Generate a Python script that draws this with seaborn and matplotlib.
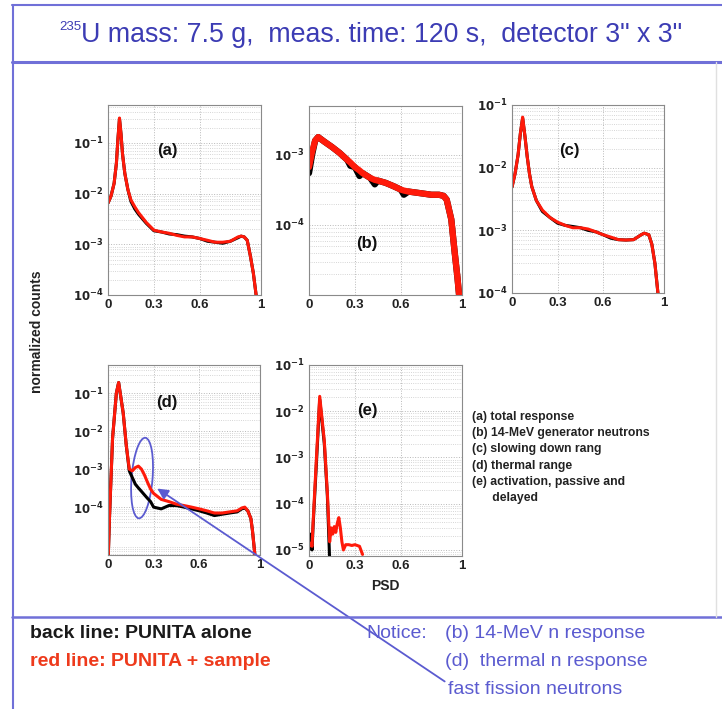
import numpy as np
import pandas as pd
import matplotlib
matplotlib.use("Agg")
import matplotlib.pyplot as plt
from matplotlib.lines import Line2D
from matplotlib.patches import Ellipse
import seaborn as sns

# ---- data (PSD vs normalized counts) ----
psd_a = [0.0, 0.02, 0.04, 0.055, 0.065, 0.075, 0.085, 0.095, 0.11, 0.13, 0.15, 0.175,
         0.2, 0.25, 0.3, 0.35, 0.4, 0.45, 0.5, 0.55, 0.6, 0.65, 0.7, 0.75, 0.8, 0.85,
         0.87, 0.89, 0.91, 0.93, 0.95, 0.97]
a_sample = [6.5e-3, 9e-3, 1.6e-2, 4e-2, 0.12, 0.31, 0.15, 0.06, 2.5e-2, 1.2e-2, 7.5e-3, 5.5e-3,
            4.2e-3, 2.7e-3, 1.9e-3, 1.75e-3, 1.65e-3, 1.5e-3, 1.4e-3, 1.4e-3, 1.3e-3, 1.2e-3,
            1.1e-3, 1.1e-3, 1.15e-3, 1.4e-3, 1.45e-3, 1.4e-3, 1.2e-3, 6e-4, 2.7e-4, 9e-5]
a_alone = [6.5e-3, 9e-3, 1.6e-2, 4e-2, 0.12, 0.30, 0.15, 0.06, 2.5e-2, 1.2e-2, 7.0e-3, 5.0e-3,
           3.9e-3, 2.6e-3, 1.85e-3, 1.75e-3, 1.6e-3, 1.55e-3, 1.45e-3, 1.4e-3, 1.3e-3, 1.15e-3,
           1.1e-3, 1.05e-3, 1.15e-3, 1.35e-3, 1.45e-3, 1.4e-3, 1.2e-3, 6e-4, 2.7e-4, 9e-5]

psd_b = [0.0, 0.02, 0.04, 0.06, 0.1, 0.15, 0.2, 0.25, 0.27, 0.3, 0.33, 0.35, 0.4, 0.43,
         0.45, 0.5, 0.55, 0.6, 0.62, 0.65, 0.7, 0.75, 0.8, 0.85, 0.88, 0.9, 0.93, 0.95,
         0.97, 0.985]
b_sample = [6.7e-4, 1.1e-3, 1.6e-3, 1.8e-3, 1.55e-3, 1.3e-3, 1.07e-3, 8.5e-4, 7.8e-4, 6.7e-4,
            6e-4, 5.5e-4, 4.7e-4, 4.4e-4, 4.3e-4, 4e-4, 3.6e-4, 3.2e-4, 3.1e-4, 3.0e-4, 2.9e-4,
            2.8e-4, 2.7e-4, 2.7e-4, 2.6e-4, 2.3e-4, 1.2e-4, 4.5e-5, 1.8e-5, 8e-6]
b_alone = [5.5e-4, 1.0e-3, 1.6e-3, 1.8e-3, 1.55e-3, 1.3e-3, 1.07e-3, 8.5e-4, 7.0e-4, 6.7e-4,
           5.0e-4, 5.5e-4, 4.7e-4, 3.8e-4, 4.3e-4, 4e-4, 3.6e-4, 3.2e-4, 2.7e-4, 3.0e-4, 2.9e-4,
           2.8e-4, 2.7e-4, 2.7e-4, 2.6e-4, 2.3e-4, 1.2e-4, 4.5e-5, 1.8e-5, 8e-6]

psd_c = [0.0, 0.02, 0.04, 0.055, 0.07, 0.085, 0.1, 0.115, 0.13, 0.16, 0.2, 0.25, 0.3, 0.35,
         0.4, 0.45, 0.5, 0.55, 0.6, 0.65, 0.7, 0.75, 0.8, 0.85, 0.87, 0.9, 0.92, 0.94, 0.96, 0.97]
c_sample = [4.9e-3, 8e-3, 1.6e-2, 3.5e-2, 6.4e-2, 3.2e-2, 1.5e-2, 8e-3, 5e-3, 3e-3, 2.1e-3,
            1.6e-3, 1.35e-3, 1.2e-3, 1.1e-3, 1.1e-3, 1.05e-3, 9.5e-4, 8.5e-4, 7.8e-4, 7.1e-4,
            7e-4, 7.1e-4, 8.5e-4, 9e-4, 8.5e-4, 6e-4, 3e-4, 1e-4, 6e-5]
c_alone = [4.9e-3, 8e-3, 1.6e-2, 3.5e-2, 6.2e-2, 3.2e-2, 1.5e-2, 8e-3, 5e-3, 3e-3, 2.0e-3,
           1.6e-3, 1.3e-3, 1.2e-3, 1.15e-3, 1.1e-3, 1.0e-3, 9.5e-4, 8.5e-4, 7.5e-4, 7.1e-4,
           7e-4, 7.1e-4, 8.5e-4, 9e-4, 8.5e-4, 6e-4, 3e-4, 1e-4, 6e-5]

psd_d = [0.0, 0.01, 0.03, 0.055, 0.07, 0.1, 0.12, 0.14, 0.16, 0.18, 0.2, 0.22, 0.24, 0.26,
         0.28, 0.3, 0.35, 0.4, 0.45, 0.5, 0.55, 0.6, 0.65, 0.7, 0.75, 0.8, 0.85, 0.88, 0.9,
         0.92, 0.94, 0.95, 0.96, 0.97]
d_sample = [3e-6, 5.5e-5, 6.5e-3, 0.1, 0.19, 3e-2, 4.3e-3, 1.0e-3, 9e-4, 1.1e-3, 1.2e-3, 1.0e-3,
            7e-4, 4.5e-4, 3e-4, 2.3e-4, 1.6e-4, 1.4e-4, 1.2e-4, 1.1e-4, 1e-4, 9e-5, 8e-5, 7e-5,
            7e-5, 7.5e-5, 8e-5, 9.5e-5, 1e-4, 8e-5, 5e-5, 2.5e-5, 1e-5, 4e-6]
d_alone = [3e-6, 5.5e-5, 6.5e-3, 0.1, 0.19, 3e-2, 4.3e-3, 9e-4, 6e-4, 4e-4, 3.2e-4, 2.6e-4,
           2.1e-4, 1.7e-4, 1.4e-4, 1.0e-4, 9e-5, 1.1e-4, 1.1e-4, 1.0e-4, 9e-5, 8e-5, 7e-5, 6e-5,
           6.5e-5, 7e-5, 7.5e-5, 9e-5, 9.5e-5, 8e-5, 5e-5, 2.5e-5, 1e-5, 4e-6]

psd_e = [0.0, 0.01, 0.02, 0.026, 0.048, 0.07, 0.1, 0.12, 0.135, 0.145, 0.155, 0.165, 0.175,
         0.185, 0.195, 0.205, 0.215, 0.225, 0.24, 0.26, 0.28, 0.3, 0.33, 0.35]
e_sample = [1.2e-5, 1.4e-5, 1.2e-5, 3.5e-5, 8.9e-4, 2.1e-2, 2.3e-3, 1.7e-4, 1.5e-5, 3e-5,
            2.2e-5, 3.2e-5, 2.4e-5, 3.8e-5, 5e-5, 3e-5, 1.5e-5, 1e-5, 1.3e-5, 1.3e-5, 1.25e-5,
            1.3e-5, 1.2e-5, 8e-6]
e_alone = [1e-5, 2.2e-5, 1e-5, 3e-5, 7e-4, 1.8e-2, 2e-3, 1.5e-4, 6e-6, 5e-6, 5e-6, 5e-6, 5e-6,
           5e-6, 5e-6, 5e-6, 5e-6, 5e-6, 5e-6, 5e-6, 5e-6, 5e-6, 5e-6, 5e-6]

panel_labels = ["(a)", "(b)", "(c)", "(d)", "(e)"]
xtick_vals = [0, 0.3, 0.6, 1]
xtick_text = ["0", "0.3", "0.6", "1"]
legend_lines = ["(a) total response", "(b) 14-MeV generator neutrons",
                "(c) slowing down rang", "(d) thermal range",
                "(e) activation, passive and", "      delayed"]

RED = "#ff1a0a"
BLUE = "#5b5bd0"
BOX = "#7070d8"

sns.set_theme(style="white")
plt.rcParams["font.family"] = ["Liberation Sans", "DejaVu Sans"]

W, H = 722, 709
fig = plt.figure(figsize=(W / 100, H / 100), dpi=100)


def fx(x):
    return x / W


def fy(y):
    return 1 - y / H


def add_panel(box, psd, alone, sample, ylim, decs, label, label_pos, lw=2.2):
    x0, y0, x1, y1 = box
    ax = fig.add_axes([fx(x0), fy(y1), fx(x1 - x0), (y1 - y0) / H])
    df = pd.DataFrame({"PSD": psd, "alone": alone, "sample": sample})
    sns.lineplot(data=df, x="PSD", y="alone", ax=ax, color="black", lw=lw, sort=False)
    sns.lineplot(data=df, x="PSD", y="sample", ax=ax, color=RED, lw=lw, sort=False)
    ax.set_yscale("log")
    ax.set_xlim(0, 1)
    ax.set_ylim(*ylim)
    ax.set_xlabel("")
    ax.set_ylabel("")
    ax.set_xticks(xtick_vals)
    ax.set_xticklabels(xtick_text, fontsize=9.5, fontweight="bold", color="#222222")
    ax.set_yticks([10.0 ** d for d in decs])
    ax.set_yticklabels([r"$\mathbf{10^{%d}}$" % d for d in decs], fontsize=8.5, color="#222222")
    ax.yaxis.set_minor_locator(matplotlib.ticker.LogLocator(base=10, subs=np.arange(2, 10)))
    ax.yaxis.set_minor_formatter(matplotlib.ticker.NullFormatter())
    ax.grid(True, which="major", color="#b8b8b8", ls=":", lw=0.7)
    ax.grid(True, which="minor", axis="y", color="#c8c8c8", ls=":", lw=0.6)
    ax.tick_params(axis="both", which="both", direction="in", length=2, pad=3)
    for s in ax.spines.values():
        s.set_color("#8a8a8a")
        s.set_linewidth(0.8)
    ax.text(label_pos[0], label_pos[1], label, transform=ax.transAxes, fontsize=12,
            fontweight="bold", ha="center", va="center", color="#111111")
    return ax


ax_a = add_panel((108, 105, 261, 295), psd_a, a_alone, a_sample, (1e-4, 0.56),
                 [-4, -3, -2, -1], panel_labels[0], (0.39, 0.76))
ax_b = add_panel((309, 106, 462, 295), psd_b, b_alone, b_sample, (1e-5, 5e-3),
                 [-4, -3], panel_labels[1], (0.38, 0.27), lw=4.5)
ax_c = add_panel((512, 105, 664, 293), psd_c, c_alone, c_sample, (1e-4, 1e-1),
                 [-4, -3, -2, -1], panel_labels[2], (0.38, 0.76))
ax_d = add_panel((108, 365, 260, 555), psd_d, d_alone, d_sample, (5.5e-6, 0.55),
                 [-4, -3, -2, -1], panel_labels[3], (0.39, 0.8))
ax_e = add_panel((309, 365, 462, 556), psd_e, e_alone, e_sample, (7.4e-6, 1e-1),
                 [-5, -4, -3, -2, -1], panel_labels[4], (0.38, 0.76))

# axis labels
fig.text(fx(37), fy(332), "normalized counts", rotation=90, ha="center", va="center",
         fontsize=10, fontweight="bold", color="#222222")
fig.text(fx(385), fy(586), "PSD", ha="center", va="center", fontsize=10,
         fontweight="bold", color="#222222")

# description block
for i, line in enumerate(legend_lines):
    fig.text(fx(472), fy(417 + i * 16.2), line, ha="left", va="center", fontsize=8.8,
             fontweight="bold", color="#222222")

# title box and frames
frame = [((12, 722), (5, 5), 1.5), ((13, 13), (5, 709), 1.5), ((12, 722), (62, 62), 2.2),
         ((12, 722), (617, 617), 1.8)]
for xs, ys, lw in frame:
    fig.add_artist(Line2D([fx(xs[0]), fx(xs[1])], [fy(ys[0]), fy(ys[1])], color=BOX, lw=lw,
                          transform=fig.transFigure))
fig.add_artist(Line2D([fx(716), fx(716)], [fy(62), fy(617)], color="#e0e0e0", lw=1,
                      transform=fig.transFigure))

fig.text(fx(59), fy(27), "235", ha="left", va="center", fontsize=9.5, color="#3c3cb4")
fig.text(fx(81), fy(35), 'U mass: 7.5 g,  meas. time: 120 s,  detector 3" x 3"', ha="left",
         va="center", fontsize=19.3, color="#3c3cb4")

# bottom notes
fig.text(fx(30), fy(633), "back line: PUNITA alone", ha="left", va="center", fontsize=14,
         fontweight="bold", color="#1a1a1a")
fig.text(fx(30), fy(662), "red line: PUNITA + sample", ha="left", va="center", fontsize=14,
         fontweight="bold", color="#ee3a1c")
fig.text(fx(366), fy(633), "Notice:", ha="left", va="center", fontsize=14, color=BLUE)
fig.text(fx(445), fy(633), "(b) 14-MeV n response", ha="left", va="center", fontsize=14,
         color=BLUE)
fig.text(fx(445), fy(662), "(d)  thermal n response", ha="left", va="center", fontsize=14,
         color=BLUE)
fig.text(fx(448), fy(690), "fast fission neutrons", ha="left", va="center", fontsize=14,
         color=BLUE)

# ellipse and arrow pointing to the fast fission bump in (d)
ax_d.add_patch(Ellipse((0.224, 0.405), 0.138, 0.426, angle=-6, transform=ax_d.transAxes,
                       fill=False, edgecolor=BLUE, lw=1.3, clip_on=False))
ax_d.annotate("", xy=(fx(155), fy(487)), xycoords="figure fraction",
              xytext=(fx(447), fy(683)), textcoords="figure fraction",
              arrowprops=dict(arrowstyle="-|>", color=BLUE, lw=1.3, mutation_scale=16),
              annotation_clip=False)

fig.savefig("out.png", dpi=100)
